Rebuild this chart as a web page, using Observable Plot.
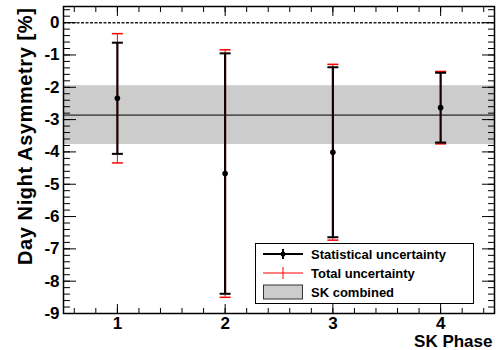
<!DOCTYPE html>
<html>
<head>
<meta charset="utf-8">
<script src="https://cdn.jsdelivr.net/npm/d3@7"></script>
<script src="https://cdn.jsdelivr.net/npm/@observablehq/plot@0.6"></script>
<style>
  body { margin: 0; background: #fff; }
  #chart { position: relative; width: 496px; height: 350px; font-family: "Liberation Sans", Arial, sans-serif; }
  #legend { position: absolute; left: 255px; top: 243px; }
</style>
</head>
<body>
<div id="chart"></div>
<script>
// Day/night asymmetry per SK phase, in percent
const phases = [1, 2, 3, 4];
const asymmetry = [-2.34, -4.67, -4.01, -2.63];
const statErr = [1.72, 3.72, 2.63, 1.08];
const totalErr = [2.00, 3.83, 2.72, 1.12];

// Combined result over all phases
const combinedValue = -2.86;
const combinedErr = 0.91;

// Axes
const xDomain = [0.5, 4.5];
const yDomain = [-9, 0.5];
const xTicks = [1, 2, 3, 4];
const yTicks = d3.range(-9, 1);
const xMinorTicks = d3.range(3, 23).map(i => i / 5);
const yMinorTicks = d3.range(-45, 3).map(i => i / 5);
const xTitle = "SK Phase";
const yTitle = "Day Night Asymmetry [%]";
const legendLabels = ["Statistical uncertainty", "Total uncertainty", "SK combined"];

const rows = phases.map((p, i) => ({
  phase: p,
  value: asymmetry[i],
  statLo: asymmetry[i] - statErr[i],
  statHi: asymmetry[i] + statErr[i],
  totLo: asymmetry[i] - totalErr[i],
  totHi: asymmetry[i] + totalErr[i]
}));
const band = [{lo: combinedValue - combinedErr, hi: combinedValue + combinedErr}];

// horizontal cap symbol for the error bars
const cap = {
  draw(context, size) {
    const w = Math.sqrt(size / Math.PI);
    context.moveTo(-w, 0);
    context.lineTo(w, 0);
  }
};

const font = '"Liberation Sans", Arial, sans-serif';
const red = "#ff0000";

const plot = Plot.plot({
  width: 496,
  height: 350,
  marginLeft: 63,
  marginRight: 2,
  marginTop: 6,
  marginBottom: 37,
  style: {fontFamily: font, fontWeight: "bold", fontSize: "17px", color: "black", background: "white"},
  x: {domain: xDomain},
  y: {domain: yDomain},
  marks: [
    Plot.rect(band, {x1: xDomain[0], x2: xDomain[1], y1: "lo", y2: "hi", fill: "#cccccc"}),
    Plot.ruleY([combinedValue], {stroke: "black", strokeWidth: 1}),
    Plot.ruleY([0], {stroke: "#222", strokeWidth: 1.5, strokeDasharray: "3,1.5"}),

    // total uncertainty
    Plot.ruleX(rows, {x: "phase", y1: "totLo", y2: "totHi", stroke: red, strokeWidth: 1}),
    Plot.dot(rows, {x: "phase", y: "totLo", symbol: cap, r: 5.5, stroke: red, strokeWidth: 1.5, fill: "none"}),
    Plot.dot(rows, {x: "phase", y: "totHi", symbol: cap, r: 5.5, stroke: red, strokeWidth: 1.5, fill: "none"}),

    // statistical uncertainty
    Plot.ruleX(rows, {x: "phase", y1: "statLo", y2: "statHi", stroke: "#1a0000", strokeWidth: 2.2}),
    Plot.dot(rows, {x: "phase", y: "statLo", symbol: cap, r: 5.5, stroke: "black", strokeWidth: 2, fill: "none"}),
    Plot.dot(rows, {x: "phase", y: "statHi", symbol: cap, r: 5.5, stroke: "black", strokeWidth: 2, fill: "none"}),
    Plot.dot(rows, {x: "phase", y: "value", r: 2.8, fill: "black"}),

    // inward ticks on all four sides
    Plot.axisY({anchor: "left", ticks: yMinorTicks, tickSize: 7, dx: 7, fill: null, label: null}),
    Plot.axisY({anchor: "left", ticks: yTicks, tickSize: 13, dx: 13, fill: null, label: null}),
    Plot.axisY({anchor: "right", ticks: yMinorTicks, tickSize: 7, dx: -7, fill: null, label: null}),
    Plot.axisY({anchor: "right", ticks: yTicks, tickSize: 13, dx: -13, fill: null, label: null}),
    Plot.axisX({anchor: "bottom", ticks: xMinorTicks, tickSize: 5, dy: -5, fill: null, label: null}),
    Plot.axisX({anchor: "bottom", ticks: xTicks, tickSize: 9, dy: -9, fill: null, label: null}),
    Plot.axisX({anchor: "top", ticks: xMinorTicks, tickSize: 5, dy: 5, fill: null, label: null}),
    Plot.axisX({anchor: "top", ticks: xTicks, tickSize: 9, dy: 9, fill: null, label: null}),

    // tick labels
    Plot.axisY({anchor: "left", ticks: yTicks, tickSize: 0, tickPadding: 4, tickFormat: d => String(d), label: null}),
    Plot.axisX({anchor: "bottom", ticks: xTicks, tickSize: 0, tickPadding: 3, tickFormat: d => String(d), label: null}),

    // axis titles
    Plot.text([xTitle], {frameAnchor: "bottom-right", textAnchor: "end", dx: -2, dy: 33, fontSize: 17}),
    Plot.text([yTitle], {frameAnchor: "top-left", textAnchor: "end", rotate: -90, dx: -46, dy: 1, fontSize: 20}),

    Plot.frame({stroke: "black", strokeWidth: 1.5})
  ]
});

const chart = document.getElementById("chart");
chart.appendChild(plot);
d3.select(plot).selectAll("text").filter(function() { return this.textContent === yTitle; })
  .style("letter-spacing", "0.6px");

// legend box
const lw = 219, lh = 61;
const legend = d3.select(chart).append("svg")
  .attr("id", "legend")
  .attr("width", lw)
  .attr("height", lh)
  .style("font-family", font)
  .style("font-weight", "bold")
  .style("font-size", "13px");
legend.append("rect").attr("x", 0.5).attr("y", 0.5).attr("width", lw - 1).attr("height", lh - 1)
  .attr("fill", "white").attr("stroke", "black").attr("stroke-width", 1);

const rowY = [11, 30, 49];
// statistical: thick black line with point
legend.append("line").attr("x1", 8).attr("x2", 48).attr("y1", rowY[0]).attr("y2", rowY[0])
  .attr("stroke", "black").attr("stroke-width", 2);
legend.append("line").attr("x1", 28).attr("x2", 28).attr("y1", rowY[0] - 5).attr("y2", rowY[0] + 5)
  .attr("stroke", "black").attr("stroke-width", 2);
legend.append("circle").attr("cx", 28).attr("cy", rowY[0]).attr("r", 2.5).attr("fill", "black");
// total: thin red line
legend.append("line").attr("x1", 8).attr("x2", 48).attr("y1", rowY[1]).attr("y2", rowY[1])
  .attr("stroke", red).attr("stroke-width", 1);
legend.append("line").attr("x1", 28).attr("x2", 28).attr("y1", rowY[1] - 6).attr("y2", rowY[1] + 6)
  .attr("stroke", red).attr("stroke-width", 1);
// combined: grey box
legend.append("rect").attr("x", 8.5).attr("y", rowY[2] - 7).attr("width", 39).attr("height", 14)
  .attr("fill", "#cccccc").attr("stroke", "#333").attr("stroke-width", 1);

legend.selectAll("text.lbl").data(legendLabels).join("text")
  .attr("class", "lbl")
  .attr("x", 56)
  .attr("y", (d, i) => rowY[i])
  .attr("dy", "0.35em")
  .text(d => d);
</script>
</body>
</html>
